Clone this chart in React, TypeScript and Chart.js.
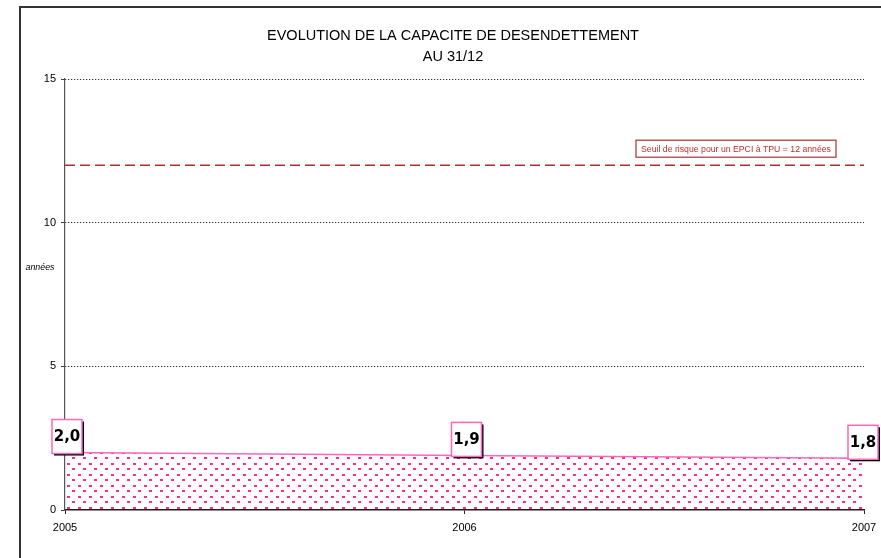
import React, { useEffect, useRef } from 'react';
import { Chart, registerables } from 'chart.js';

Chart.register(...registerables);

const years = ['2005', '2006', '2007'];
const capacite = [2.0, 1.9, 1.8];
const seuil = [12, 12, 12];
const yMin = 0;
const yMax = 15;
const yStep = 5;
const titleLines = ['EVOLUTION DE LA CAPACITE DE DESENDETTEMENT', 'AU 31/12'];
const yTitle = 'années';
const seuilLabel = 'Seuil de risque pour un EPCI à TPU = 12 années';

const PINK = '#ff2a92';
const PINK_LINE = '#ff66bb';
const DARK_RED = '#a83232';

function fitFont(ctx: CanvasRenderingContext2D, text: string, family: string, style: string, target: number) {
  ctx.font = `${style} 100px ${family}`;
  const w = ctx.measureText(text).width;
  const size = (100 * target) / w;
  return `${style} ${size.toFixed(2)}px ${family}`;
}

function makePattern(): CanvasPattern | string {
  const c = document.createElement('canvas');
  c.width = 11;
  c.height = 11;
  const g = c.getContext('2d');
  if (!g) return PINK;
  g.fillStyle = PINK;
  g.fillRect(1, 1, 3, 2);
  g.fillRect(6, 6, 3, 2);
  const p = g.createPattern(c, 'repeat');
  return p || PINK;
}

const decor = {
  id: 'decor',
  beforeDraw(chart: any) {
    const ctx = chart.ctx as CanvasRenderingContext2D;
    ctx.save();
    ctx.fillStyle = '#ffffff';
    ctx.fillRect(0, 0, chart.width, chart.height);
    ctx.strokeStyle = '#333333';
    ctx.lineWidth = 2;
    ctx.beginPath();
    ctx.moveTo(20, chart.height);
    ctx.lineTo(20, 7);
    ctx.lineTo(chart.width, 7);
    ctx.stroke();
    ctx.restore();
  },
  afterDraw(chart: any) {
    const ctx = chart.ctx as CanvasRenderingContext2D;
    const fam = '"Liberation Sans", Arial, sans-serif';
    ctx.save();
    // title
    ctx.fillStyle = '#000';
    ctx.textAlign = 'center';
    ctx.textBaseline = 'middle';
    ctx.font = fitFont(ctx, titleLines[0], fam, 'normal', 372);
    ctx.fillText(titleLines[0], 453, 36);
    ctx.fillText(titleLines[1], 453, 57);

    // y title
    ctx.font = fitFont(ctx, yTitle, fam, 'italic', 29);
    ctx.fillText(yTitle, 40, 268);

    // seuil label
    const ys = chart.scales.y;
    const yS = ys.getPixelForValue(seuil[0]);
    ctx.font = fitFont(ctx, seuilLabel, fam, 'normal', 190);
    const bx = 636, bw = 200, bh = 17;
    const by = yS - 25;
    ctx.fillStyle = '#fff';
    ctx.fillRect(bx, by, bw, bh);
    ctx.strokeStyle = DARK_RED;
    ctx.lineWidth = 1.2;
    ctx.strokeRect(bx, by, bw, bh);
    ctx.fillStyle = '#c0302a';
    ctx.fillText(seuilLabel, bx + bw / 2, by + bh / 2 + 0.5);

    // data labels
    const meta = chart.getDatasetMeta(0);
    ctx.font = 'bold 15px "DejaVu Sans", sans-serif';
    meta.data.forEach((el: any, i: number) => {
      const txt = capacite[i].toFixed(1).replace('.', ',');
      const w = 30, h = 34;
      let cx = el.x + 2;
      if (cx + w / 2 > chart.width - 3) cx = chart.width - 3 - w / 2;
      const bottom = el.y + 1;
      const left = cx - w / 2;
      const top = bottom - h;
      ctx.fillStyle = '#000';
      ctx.fillRect(left + 2, top + 2, w, h);
      ctx.fillStyle = '#fff';
      ctx.fillRect(left, top, w, h);
      ctx.strokeStyle = PINK_LINE;
      ctx.lineWidth = 1.5;
      ctx.strokeRect(left, top, w, h);
      ctx.fillStyle = '#000';
      ctx.fillText(txt, cx, top + h / 2 + 1);
    });
    ctx.restore();
  },
};

export default function App() {
  const ref = useRef<HTMLCanvasElement | null>(null);
  useEffect(() => {
    document.body.style.margin = '0';
    const canvas = ref.current;
    if (!canvas) return;
    const pattern = makePattern();
    const chart = new Chart(canvas, {
      type: 'line',
      data: {
        labels: years,
        datasets: [
          {
            label: 'Capacité de désendettement',
            data: capacite,
            borderColor: PINK_LINE,
            borderWidth: 1.5,
            backgroundColor: pattern as any,
            fill: 'origin',
            pointRadius: 0,
            tension: 0,
          },
          {
            label: 'Seuil',
            data: seuil,
            borderColor: DARK_RED,
            borderWidth: 1.5,
            borderDash: [10, 5],
            fill: false,
            pointRadius: 0,
          },
        ],
      },
      options: {
        responsive: false,
        animation: false,
        devicePixelRatio: 1,
        layout: { padding: { left: 0, top: 79, right: 17, bottom: 0 } },
        plugins: {
          legend: { display: false },
          tooltip: { enabled: false },
          title: { display: false },
        },
        scales: {
          x: {
            type: 'category',
            offset: false,
            grid: {
              offset: false,
              drawOnChartArea: false,
              drawTicks: true,
              tickLength: 4,
              color: '#222',
            },
            border: { display: true, color: '#2a1a1a', width: 1.5 },
            ticks: {
              color: '#000',
              font: { family: '"Liberation Sans", Arial, sans-serif', size: 11 },
              padding: 7,
              maxRotation: 0,
              autoSkip: false,
            },
            afterFit: (s: any) => {
              s.height = 48;
              s.paddingLeft = 0;
              s.paddingRight = 0;
            },
          },
          y: {
            min: yMin,
            max: yMax,
            ticks: {
              stepSize: yStep,
              color: '#000',
              font: { family: '"Liberation Sans", Arial, sans-serif', size: 11 },
              padding: 5,
            },
            grid: {
              drawTicks: true,
              tickLength: 4,
              color: (c: any) => (c.tick && c.tick.value === 0 ? 'rgba(0,0,0,0)' : '#000'),
              tickColor: '#444',
              lineWidth: 1,
            },
            border: { display: true, color: '#555', width: 1.2, dash: [1, 2] },
            afterFit: (s: any) => {
              s.width = 65;
              s.paddingTop = 0;
              s.paddingBottom = 0;
            },
          },
        },
      },
      plugins: [decor],
    } as any);
    return () => chart.destroy();
  }, []);
  return <canvas ref={ref} width={881} height={558} style={{ display: 'block', width: 881, height: 558 }} />;
}
